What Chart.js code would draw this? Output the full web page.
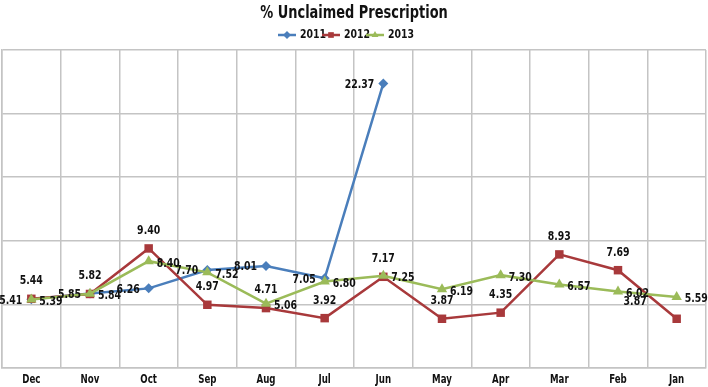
<!DOCTYPE html>
<html lang="en">
<head>
  <meta charset="UTF-8" />
  <title>% Unclaimed Prescription</title>
  <script src="https://cdn.jsdelivr.net/npm/chart.js"></script>
  <style>
    html, body { margin: 0; padding: 0; background: #fff; }
    #wrap { width: 708px; height: 387px; position: relative; }
  </style>
</head>
<body>
  <div id="wrap"><canvas id="chart"></canvas></div>

  <script>
    // Chart data
    const months = ['Dec', 'Nov', 'Oct', 'Sep', 'Aug', 'Jul', 'Jun', 'May', 'Apr', 'Mar', 'Feb', 'Jan'];
    const values2011 = [5.41, 5.85, 6.26, 7.70, 8.01, 7.05, 22.37, null, null, null, null, null];
    const values2012 = [5.44, 5.82, 9.40, 4.97, 4.71, 3.92, 7.17, 3.87, 4.35, 8.93, 7.69, 3.87];
    const values2013 = [5.39, 5.84, 8.40, 7.52, 5.06, 6.80, 7.25, 6.19, 7.30, 6.57, 6.02, 5.59];
    const seriesNames = ['2011', '2012', '2013'];

    const FONT = "'Liberation Sans Narrow', 'DejaVu Sans Condensed', 'Arial Narrow', sans-serif";
    const BLUE = '#4a7ebb';
    const RED = '#a8393b';
    const GREEN = '#9bbb59';
    const SQUEEZE = 0.8; // the reference uses a narrow face

    // text squeezed horizontally around its anchor
    function narrowText(ctx, txt, x, y, align) {
      ctx.save();
      ctx.translate(x, y);
      ctx.scale(SQUEEZE, 1);
      ctx.textAlign = align;
      ctx.fillText(txt, 0, 0);
      ctx.restore();
    }

    // Title, legend and point labels drawn on the canvas
    const decorations = {
      id: 'decorations',
      afterDatasetsDraw(chart) {
        const ctx = chart.ctx;
        ctx.save();
        ctx.fillStyle = '#111';
        ctx.textBaseline = 'middle';
        ctx.font = 'bold 13px ' + FONT;
        chart.data.datasets.forEach((ds, i) => {
          const meta = chart.getDatasetMeta(i);
          meta.data.forEach((pt, j) => {
            const v = ds.data[j];
            if (v === null || v === undefined) return;
            const txt = v.toFixed(2);
            let pos = ds.labelPos;
            if (ds.labelOverride && ds.labelOverride[j]) pos = ds.labelOverride[j];
            if (pos === 'left') {
              narrowText(ctx, txt, pt.x - 9, pt.y + 1, 'right');
            } else if (pos === 'right') {
              narrowText(ctx, txt, pt.x + 8, pt.y + 2, 'left');
            } else if (pos === 'topleft') {
              narrowText(ctx, txt, pt.x - 30, pt.y - 17, 'right');
            } else {
              narrowText(ctx, txt, pt.x, pt.y - 18, 'center');
            }
          });
        });
        ctx.restore();
      },
      afterDraw(chart) {
        const ctx = chart.ctx;
        const a = chart.chartArea;
        ctx.save();
        ctx.fillStyle = '#111';
        ctx.textBaseline = 'middle';

        // x category labels
        ctx.font = 'bold 12px ' + FONT;
        const xs = chart.scales.x;
        months.forEach((m, i) => {
          narrowText(ctx, m, xs.getPixelForTick(i), a.bottom + 12, 'center');
        });

        ctx.font = 'bold 18px ' + FONT;
        narrowText(ctx, '% Unclaimed Prescription', chart.width / 2, 13, 'center');

        // legend: line with marker, then the series name
        ctx.font = 'bold 13px ' + FONT;
        const colors = [BLUE, RED, GREEN];
        const shapes = ['rectRot', 'rect', 'triangle'];
        let x = 278;
        const y = 35;
        seriesNames.forEach((name, i) => {
          ctx.strokeStyle = colors[i];
          ctx.lineWidth = 2.5;
          ctx.beginPath();
          ctx.moveTo(x, y);
          ctx.lineTo(x + 18, y);
          ctx.stroke();
          ctx.fillStyle = colors[i];
          Chart.helpers.drawPoint(ctx, { pointStyle: shapes[i], radius: 4, borderWidth: 0 }, x + 9, y);
          ctx.fillStyle = '#111';
          narrowText(ctx, name, x + 22, y, 'left');
          x += 44;
        });
        ctx.restore();
      }
    };

    new Chart(document.getElementById('chart'), {
      type: 'line',
      data: {
        labels: months,
        datasets: [
          {
            label: seriesNames[0],
            data: values2011,
            borderColor: BLUE,
            backgroundColor: BLUE,
            borderWidth: 2.5,
            pointStyle: 'rectRot',
            pointRadius: 5,
            pointBorderWidth: 0,
            labelPos: 'left',
            order: 3
          },
          {
            label: seriesNames[1],
            data: values2012,
            borderColor: RED,
            backgroundColor: RED,
            borderWidth: 2.5,
            pointStyle: 'rect',
            pointRadius: 6,
            pointBorderWidth: 0,
            labelPos: 'top',
            labelOverride: { 11: 'topleft' },
            order: 2
          },
          {
            label: seriesNames[2],
            data: values2013,
            borderColor: GREEN,
            backgroundColor: GREEN,
            borderWidth: 2.5,
            pointStyle: 'triangle',
            pointRadius: 6,
            pointBorderWidth: 0,
            labelPos: 'right',
            order: 1
          }
        ]
      },
      options: {
        responsive: true,
        maintainAspectRatio: false,
        animation: false,
        layout: { autoPadding: false, padding: { top: 50, left: 2, right: 2, bottom: 0 } },
        plugins: {
          legend: { display: false },
          title: { display: false },
          tooltip: { enabled: false }
        },
        scales: {
          x: {
            offset: true,
            afterFit: (s) => { s.height = 19; },
            grid: { color: '#c4c4c4', lineWidth: 1.5, drawTicks: false, offset: true },
            border: { color: '#c4c4c4', width: 1.5 },
            ticks: { display: false }
          },
          y: {
            min: 0,
            max: 25,
            afterFit: (s) => { s.width = 0; },
            ticks: { display: false, stepSize: 5 },
            grid: { color: '#c4c4c4', lineWidth: 1.5, drawTicks: false },
            border: { color: '#c4c4c4', width: 1.5 }
          }
        }
      },
      plugins: [decorations]
    });
  </script>
</body>
</html>
